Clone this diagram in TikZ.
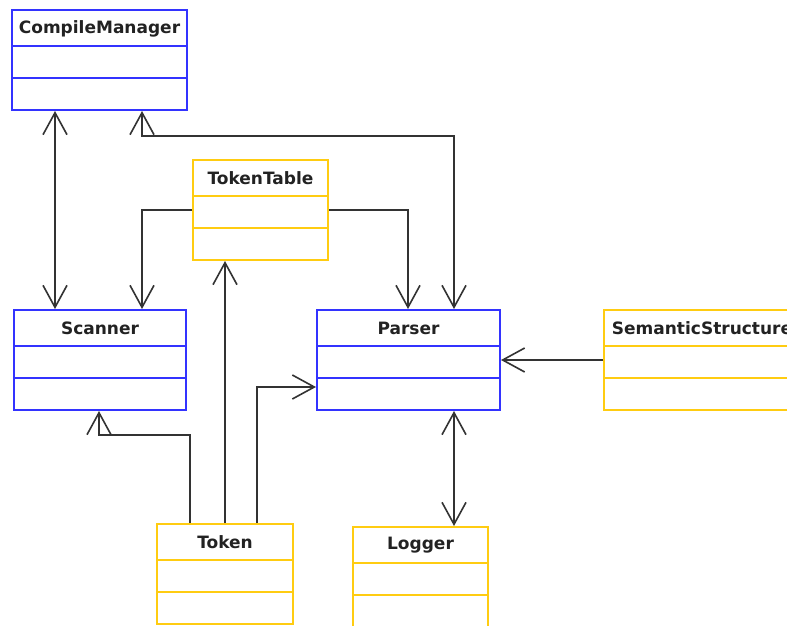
\documentclass[tikz,border=0pt]{standalone}
\usepackage{fontspec}
\setmainfont{DejaVu Sans}
\usetikzlibrary{arrows.meta}
\definecolor{umlblue}{RGB}{51,51,255}
\definecolor{umlyellow}{RGB}{255,204,17}
\definecolor{linegray}{RGB}{51,51,51}
\definecolor{textgray}{RGB}{34,34,34}
\tikzset{
  classbox/.style={rectangle, inner sep=0pt, line width=2pt, minimum height=100pt, fill=white},
  divider/.style={line width=2pt},
  classtitle/.style={inner sep=0pt, text=textgray, font=\fontsize{17}{20}\selectfont\bfseries},
  conn/.style={draw=linegray, line width=1.6pt, line join=miter,
    >={Straight Barb[length=22pt,width=24pt,line width=1.6pt]}},
}
\newcommand\umlclass[6]{%
  \node[classbox, draw=#2, minimum width={(#5-#3)*1pt}] (#1) at ({(#3+#5)/2},{#4+50}) {};
  \draw[divider, draw=#2] ([yshift=-37pt]#1.north west) -- ([yshift=-37pt]#1.north east);
  \draw[divider, draw=#2] ([yshift=-69pt]#1.north west) -- ([yshift=-69pt]#1.north east);
  \node[classtitle] (#1-t) at ([yshift=-19.5pt]#1.north) {#6};
}
\begin{document}
\begin{tikzpicture}[x=1pt,y=-1pt]
\useasboundingbox (0,0) rectangle (787,626);
\fill[white] (0,0) rectangle (787,626);
\clip (0,0) rectangle (787,626);
\umlclass{cm}{umlblue}{12}{10}{187}{CompileManager}
\umlclass{tt}{umlyellow}{193}{160}{328}{TokenTable}
\umlclass{sc}{umlblue}{14}{310}{186}{Scanner}
\umlclass{pa}{umlblue}{317}{310}{500}{Parser}
\umlclass{ss}{umlyellow}{604}{310}{800}{SemanticStructure}
\umlclass{tk}{umlyellow}{157}{524}{293}{Token}
\umlclass{lg}{umlyellow}{353}{527}{488}{Logger}
% connectors
\draw[conn,<->] ([xshift=44pt]cm.south west) -- ([xshift=42pt]sc.north west);
\draw[conn,<->] ([xshift=131pt]cm.south west) -- ++(0,25) -| ([xshift=138pt]pa.north west);
\draw[conn,->] (tt.west) -| ([xshift=129pt]sc.north west);
\draw[conn,->] (tt.east) -| ([xshift=92pt]pa.north west);
\draw[conn,->] ([xshift=69pt]tk.north west) -- ([xshift=33pt]tt.south west);
\draw[conn,->] ([xshift=34pt]tk.north west) -- ++(0,-88) -| ([xshift=86pt]sc.south west);
\draw[conn,->] ([xshift=101pt]tk.north west) |- ([yshift=24pt]pa.south west);
\draw[conn,->] (ss.west) -- (pa.east);
\draw[conn,<->] ([xshift=138pt]pa.south west) -- ([xshift=102pt]lg.north west);
\end{tikzpicture}
\end{document}
